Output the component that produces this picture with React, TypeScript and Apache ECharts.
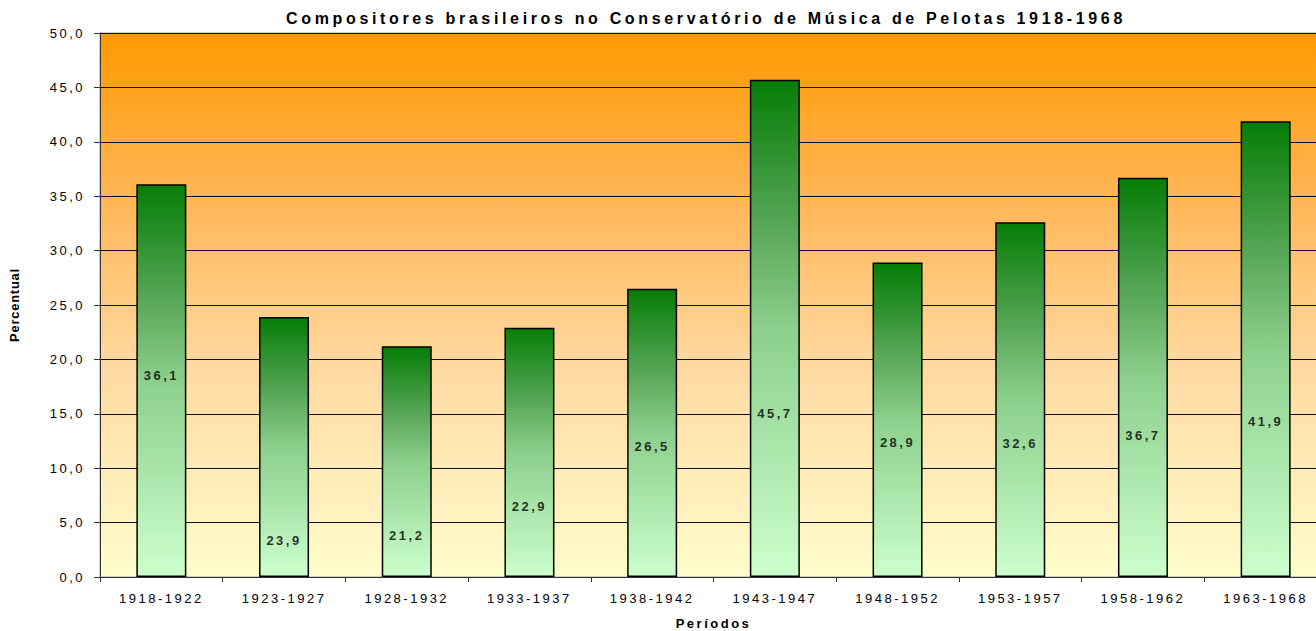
import React, { useEffect, useRef } from "react";
import * as echarts from "echarts";

const periods = [
  "1918-1922", "1923-1927", "1928-1932", "1933-1937", "1938-1942",
  "1943-1947", "1948-1952", "1953-1957", "1958-1962", "1963-1968",
];
const percentages = [36.1, 23.9, 21.2, 22.9, 26.5, 45.7, 28.9, 32.6, 36.7, 41.9];
// height (in axis units) at which each value label is drawn inside its bar
const labelHeights = [18.5, 3.4, 3.8, 6.5, 12.0, 15.0, 12.4, 12.3, 13.05, 14.25];
const yTicks = { min: 0, max: 50, interval: 5 };

const FONT = "'Liberation Sans', Arial, sans-serif";
const fmt = (v: number) => v.toFixed(1).replace(".", ",");

export default function App() {
  const ref = useRef<HTMLDivElement>(null);
  useEffect(() => {
    if (!ref.current) return;
    const chart = echarts.init(ref.current, null, { renderer: "svg" });
    chart.setOption({
      animation: false,
      backgroundColor: "#ffffff",
      title: {
        text: "Compositores brasileiros no Conservatório de Música de Pelotas 1918-1968",
        left: 701,
        top: 5,
        textAlign: "center",
        textStyle: { fontFamily: FONT, fontSize: 16, fontWeight: "bold", color: "#000" },
      },
      grid: {
        left: 100,
        right: -11,
        top: 33,
        bottom: 54,
        outerBoundsMode: "none",
        containLabel: false,
        show: true,
        borderColor: "#a0a0a0",
        borderWidth: 1,
        backgroundColor: new echarts.graphic.LinearGradient(0, 0, 0, 1, [
          { offset: 0, color: "#ff9900" },
          { offset: 0.3, color: "#ffb555" },
          { offset: 0.62, color: "#ffdaa2" },
          { offset: 1, color: "#fffdcc" },
        ]),
      },
      xAxis: {
        type: "category",
        data: periods,
        name: "Períodos",
        nameLocation: "middle",
        nameGap: 40,
        nameTextStyle: { fontFamily: FONT, fontSize: 13, fontWeight: "bold", color: "#000" },
        axisLine: { lineStyle: { color: "#333", width: 1 } },
        axisTick: { show: true, length: 5, lineStyle: { color: "#333" } },
        axisLabel: { interval: 0, margin: 15, fontFamily: FONT, fontSize: 13, color: "#000" },
      },
      yAxis: {
        type: "value",
        min: yTicks.min,
        max: yTicks.max,
        interval: yTicks.interval,
        name: "Percentual",
        nameLocation: "middle",
        nameGap: 79,
        nameTextStyle: { fontFamily: FONT, fontSize: 12.9, fontWeight: "bold", color: "#000" },
        axisLine: { show: true, lineStyle: { color: "#333", width: 1 } },
        axisTick: { show: true, length: 6, lineStyle: { color: "#333" } },
        axisLabel: { margin: 15, fontFamily: FONT, fontSize: 13, color: "#000", formatter: (v: number) => fmt(v) },
        splitLine: { show: true, lineStyle: { color: "#111", width: 1 } },
      },
      series: [
        {
          type: "bar",
          data: percentages,
          barWidth: 50,
          itemStyle: {
            borderColor: "#000",
            borderWidth: 1.5,
            color: new echarts.graphic.LinearGradient(0, 0, 0, 1, [
              { offset: 0, color: "#067d06" },
              { offset: 0.3, color: "#5aa85a" },
              { offset: 0.5, color: "#8ccf8c" },
              { offset: 1, color: "#ccffcc" },
            ]),
          },
          emphasis: { disabled: true },
          z: 2,
        },
        {
          type: "scatter",
          data: labelHeights.map((h, i) => [i, h]),
          symbolSize: 1,
          itemStyle: { color: "rgba(0,0,0,0)" },
          silent: true,
          z: 5,
          label: {
            show: true,
            position: "inside",
            fontFamily: FONT,
            fontSize: 13,
            fontWeight: "bold",
            color: "#000",
            formatter: (p: any) => fmt(percentages[p.dataIndex]),
          },
        },
      ],
    });
    return () => chart.dispose();
  }, []);
  return (
    <>
      <style>{`
        .chart-root text { letter-spacing: 2.5px; }
        .chart-root text[style*="16px"] { letter-spacing: 3.65px; }
        .chart-root text[style*="12.9px"] { letter-spacing: 0.8px; }
      `}</style>
      <div
        ref={ref}
        className="chart-root"
        style={{ position: "fixed", left: 0, top: 0, width: 1316, height: 631, overflow: "hidden" }}
      />
    </>
  );
}
